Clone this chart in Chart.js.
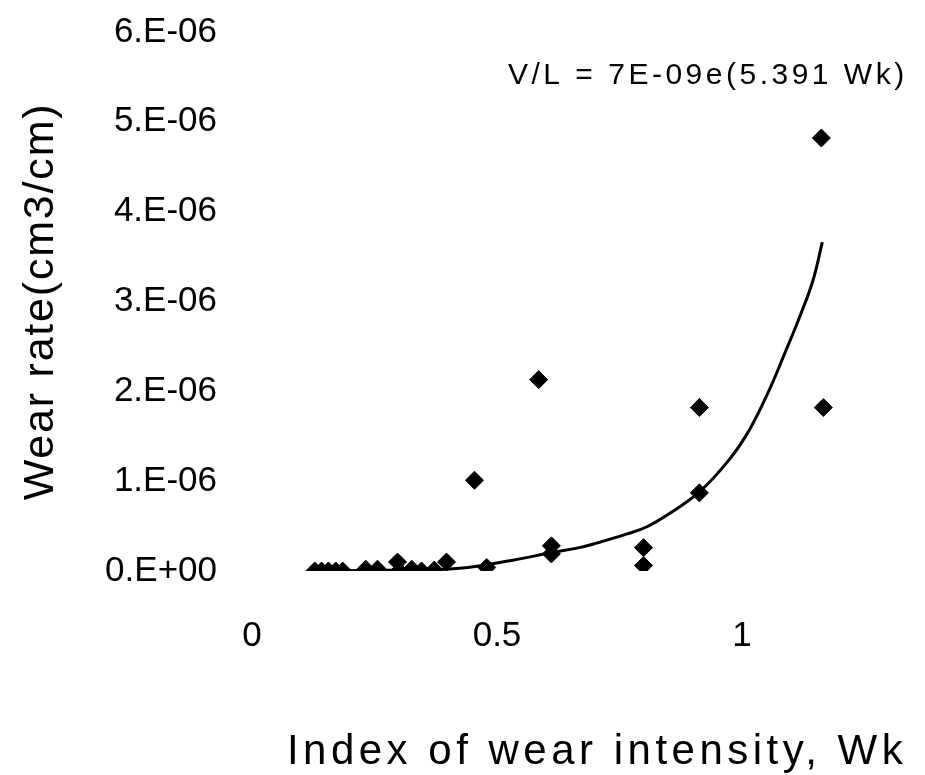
<!DOCTYPE html>
<html>
<head>
<meta charset="utf-8">
<title>Wear rate vs index of wear intensity</title>
<script src="https://cdn.jsdelivr.net/npm/chart.js@4.4.1/dist/chart.umd.min.js"></script>
<style>
  html, body { margin: 0; padding: 0; background: #fff; overflow: hidden; }
  #wrap { width: 948px; height: 775px; position: relative; }
</style>
</head>
<body>
<div id="wrap"><canvas id="wearChart"></canvas></div>
<script>
// measured points (Wk, wear rate cm3/cm)
const wkValues = [
  0.128, 0.142, 0.156, 0.171, 0.185,
  0.232, 0.256,
  0.297, 0.300, 0.326, 0.346, 0.372, 0.397,
  0.454, 0.479, 0.585, 0.611, 0.611,
  0.799, 0.799, 0.913, 0.913, 1.162, 1.166
];
const wearValues = [
  0, 0, 0, 0, 0,
  0.02e-6, 0.02e-6,
  0.10e-6, 0, 0.02e-6, 0, 0.01e-6, 0.10e-6,
  1.01e-6, 0.04e-6, 2.13e-6, 0.28e-6, 0.19e-6,
  0.26e-6, 0.06e-6, 0.87e-6, 1.82e-6, 4.82e-6, 1.82e-6
];

// exponential trendline
const trendWk = [0.128, 0.301, 0.423, 0.532, 0.607, 0.668, 0.703, 0.764, 0.805, 0.852, 0.913, 0.974, 1.015, 1.056, 1.087, 1.117, 1.144, 1.164];
const trendWear = [0, 0.01e-6, 0.03e-6, 0.12e-6, 0.20e-6, 0.26e-6, 0.31e-6, 0.41e-6, 0.49e-6, 0.64e-6, 0.88e-6, 1.24e-6, 1.57e-6, 2.02e-6, 2.42e-6, 2.82e-6, 3.22e-6, 3.66e-6];

const xTickValues = [0, 0.5, 1];
const xTickLabels = ["0", "0.5", "1"];
const yTickLabels = ["0.E+00", "1.E-06", "2.E-06", "3.E-06", "4.E-06", "5.E-06", "6.E-06"];

const xTitle = "Index of wear intensity, Wk";
const yTitle = "Wear rate(cm3/cm)";
const equationText = "V/L = 7E-09e(5.391 Wk)";

const FONT = "'Liberation Sans', Arial, sans-serif";

const points = wkValues.map((x, i) => ({ x: x, y: wearValues[i] }));
const trend = trendWk.map((x, i) => ({ x: x, y: trendWear[i] }));

// axis titles and the equation, drawn with the loose letter spacing of the scan
const textPlugin = {
  id: "wearText",
  afterDraw(chart) {
    const ctx = chart.ctx;
    const area = chart.chartArea;
    ctx.save();
    ctx.fillStyle = "#000";
    ctx.textBaseline = "middle";

    ctx.font = "42px " + FONT;
    ctx.letterSpacing = "4.5px";
    ctx.textAlign = "center";
    ctx.fillText(xTitle, 597, 752);

    ctx.save();
    ctx.translate(41, (area.top + area.bottom) / 2);
    ctx.rotate(-Math.PI / 2);
    ctx.font = "43px " + FONT;
    ctx.letterSpacing = "1.8px";
    ctx.fillText(yTitle, 0, 0);
    ctx.restore();

    ctx.font = "30px " + FONT;
    ctx.letterSpacing = "3.5px";
    ctx.textAlign = "left";
    ctx.fillText(equationText, 508, 76);
    ctx.restore();
  },
};

const config = {
  type: "scatter",
  data: {
    datasets: [
      {
        label: "Wear rate",
        data: points,
        pointStyle: "rectRot",
        pointRadius: 9,
        backgroundColor: "#000",
        borderColor: "#000",
        borderWidth: 1,
        order: 1,
      },
      {
        label: "Expon. trend",
        data: trend,
        showLine: true,
        pointRadius: 0,
        borderColor: "#000",
        borderWidth: 3,
        tension: 0.4,
        order: 2,
      },
    ],
  },
  options: {
    responsive: true,
    maintainAspectRatio: false,
    animation: false,
    layout: {
      padding: { top: 32, right: 0, bottom: 0, left: 0 },
    },
    plugins: {
      legend: { display: false },
      tooltip: { enabled: false },
    },
    scales: {
      x: {
        type: "linear",
        min: 0,
        max: 1.4,
        grid: { display: false, drawTicks: false },
        border: { display: false },
        ticks: {
          padding: 44,
          color: "#000",
          font: { family: FONT, size: 35 },
          callback: (value) => {
            const i = xTickValues.indexOf(value);
            return i >= 0 ? xTickLabels[i] : "";
          },
        },
        afterBuildTicks: (scale) => {
          scale.ticks = xTickValues.map((v) => ({ value: v }));
        },
        afterFit: (scale) => {
          scale.height = 204;
        },
      },
      y: {
        type: "linear",
        min: 0,
        max: 6e-6,
        grid: { display: false, drawTicks: false },
        border: { display: false },
        ticks: {
          stepSize: 1e-6,
          padding: 35,
          color: "#000",
          font: { family: FONT, size: 35 },
          callback: (value) => yTickLabels[Math.round(value / 1e-6)],
        },
        afterFit: (scale) => {
          scale.width = 252;
          scale.paddingTop = 0;
          scale.paddingBottom = 0;
        },
      },
    },
  },
  plugins: [textPlugin],
};

new Chart(document.getElementById("wearChart"), config);
</script>
</body>
</html>
